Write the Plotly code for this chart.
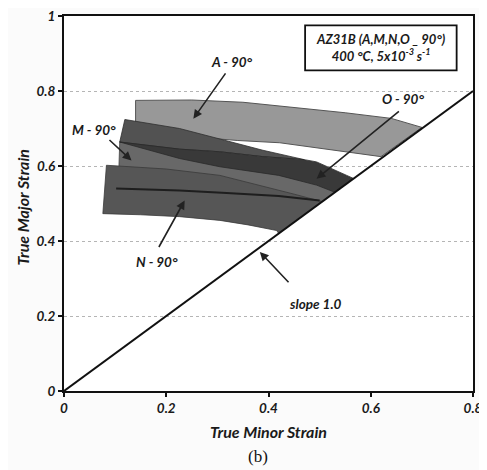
import plotly.graph_objects as go

# ---------------- data ----------------
x_ticks = [0, 0.2, 0.4, 0.6, 0.8]
x_tick_labels = ["0", "0.2", "0.4", "0.6", "0.8"]
y_ticks = [0, 0.2, 0.4, 0.6, 0.8, 1.0]
y_tick_labels = ["0", "0.2", "0.4", "0.6", "0.8", "1"]

# slope 1.0 line
slope_x = [0, 0.8]
slope_y = [0, 0.8]

# A - 90 band (closed outline: top edge left->right, then bottom edge right->left)
band_a_x = [0.14, 0.25, 0.35, 0.45, 0.55, 0.64, 0.70, 0.62, 0.553, 0.50, 0.422, 0.34, 0.14, 0.14]
band_a_y = [0.775, 0.776, 0.770, 0.757, 0.742, 0.727, 0.703, 0.625, 0.637, 0.648, 0.662, 0.668, 0.69, 0.775]

# M - 90 band
band_m_x = [0.109, 0.20, 0.30, 0.42, 0.50, 0.55, 0.505, 0.40, 0.25, 0.107, 0.109]
band_m_y = [0.664, 0.655, 0.630, 0.600, 0.575, 0.550, 0.505, 0.530, 0.560, 0.580, 0.664]

# N - 90 band
band_n_x = [0.083, 0.20, 0.305, 0.38, 0.45, 0.505, 0.42, 0.416, 0.36, 0.305, 0.226, 0.15, 0.076, 0.083]
band_n_y = [0.602, 0.592, 0.575, 0.550, 0.525, 0.505, 0.420, 0.428, 0.443, 0.455, 0.465, 0.470, 0.473, 0.602]
n_line_x = [0.102, 0.226, 0.318, 0.42, 0.50]
n_line_y = [0.540, 0.535, 0.528, 0.520, 0.508]

# O - 90 band: upper (lighter) part and lower (darker) core
band_o_up_x = [0.119, 0.226, 0.305, 0.389, 0.47, 0.389, 0.305, 0.226, 0.109, 0.119]
band_o_up_y = [0.724, 0.700, 0.672, 0.642, 0.617, 0.625, 0.638, 0.645, 0.664, 0.724]
band_o_lo_x = [0.109, 0.226, 0.305, 0.389, 0.47, 0.494, 0.553, 0.566, 0.53, 0.494, 0.42, 0.305, 0.226, 0.109]
band_o_lo_y = [0.664, 0.645, 0.638, 0.625, 0.617, 0.611, 0.575, 0.567, 0.530, 0.549, 0.575, 0.598, 0.620, 0.664]

# ---------------- figure ----------------
fig = go.Figure()

def band(xs, ys, fill, edge="#3a3a3a", w=0.8):
    fig.add_trace(go.Scatter(x=xs, y=ys, mode="lines", fill="toself",
                             fillcolor=fill, line=dict(color=edge, width=w),
                             hoverinfo="skip", showlegend=False))

band(band_a_x, band_a_y, "#989898", "#555555", 1.0)
band(band_m_x, band_m_y, "#686868", "#444444", 0.8)
band(band_n_x, band_n_y, "#565656", "#3a3a3a", 0.8)
band(band_o_up_x, band_o_up_y, "#525252", "#2e2e2e", 0.8)
band(band_o_lo_x, band_o_lo_y, "#393939", "#2a2a2a", 0.8)

fig.add_trace(go.Scatter(x=n_line_x, y=n_line_y, mode="lines",
                         line=dict(color="#1e1e1e", width=2),
                         hoverinfo="skip", showlegend=False))
fig.add_trace(go.Scatter(x=slope_x, y=slope_y, mode="lines",
                         line=dict(color="#111111", width=2),
                         hoverinfo="skip", showlegend=False))

FONT = "Lato, 'Open Sans', sans-serif"
TXT = "#1a1a1a"
lab_font = dict(family=FONT, size=13.5, color=TXT, weight="bold", style="italic")

# labels with arrows
labels = [
    ("A - 90°", 0.328, 0.877, 0.318, 0.851, 0.253, 0.726),
    ("O - 90°", 0.664, 0.780, 0.658, 0.749, 0.494, 0.566),
    ("M - 90°", 0.058, 0.695, 0.086, 0.673, 0.132, 0.615),
    ("N - 90°", 0.181, 0.344, 0.184, 0.380, 0.236, 0.508),
    ("slope 1.0", 0.491, 0.233, 0.442, 0.286, 0.383, 0.371),
]
for txt, tx, ty, ax0, ay0, hx, hy in labels:
    fig.add_annotation(x=tx, y=ty, text=txt, showarrow=False, font=lab_font)
    fig.add_annotation(x=hx, y=hy, ax=ax0, ay=ay0, xref="x", yref="y",
                       axref="x", ayref="y", text="", showarrow=True,
                       arrowhead=2, arrowsize=1.1, arrowwidth=1.6, arrowcolor="#222222")

# legend/info box
fig.add_shape(type="rect", x0=0.4716, x1=0.768, y0=0.855, y1=0.975,
              xref="x", yref="y", line=dict(color="#111111", width=1.8),
              fillcolor="white", layer="above")
fig.add_annotation(x=0.62, y=0.915, xref="x", yref="y", showarrow=False,
                   text="AZ31B (A,M,N,O _ 90°)<br>400 °C, 5x10<sup>-3</sup> s<sup>-1</sup>",
                   font=dict(family=FONT, size=13, color=TXT, weight="bold", style="italic"),
                   align="center")

# axis titles and caption as paper annotations
title_font = dict(family=FONT, size=16, color=TXT, weight="bold", style="italic")
fig.add_annotation(x=0.5, y=-0.108, xref="paper", yref="paper", showarrow=False,
                   text="True Minor Strain", font=title_font, yanchor="middle")
fig.add_annotation(x=-0.102, y=0.49, xref="paper", yref="paper", showarrow=False,
                   text="True Major Strain", font=title_font, textangle=-90,
                   xanchor="center", yanchor="middle")
fig.add_annotation(x=0.475, y=-0.175, xref="paper", yref="paper", showarrow=False,
                   text="(b)", yanchor="middle",
                   font=dict(family="Liberation Serif, serif", size=17, color="#111111"))

axis_common = dict(showline=True, linecolor="#111111", linewidth=2, mirror=True,
                   ticks="outside", ticklen=4, tickwidth=1.5, tickcolor="#111111",
                   zeroline=False, automargin=False, ticklabeloverflow="allow",
                   tickfont=dict(family=FONT, size=13.5, color=TXT, weight="bold", style="italic"))

fig.update_xaxes(range=[0, 0.8], tickvals=x_ticks, ticktext=x_tick_labels, showgrid=False,
                 **axis_common)
fig.update_yaxes(range=[0, 1.0], tickvals=y_ticks, ticktext=y_tick_labels,
                 showgrid=True, gridcolor="#b5b5b5", griddash="dot", gridwidth=1,
                 **axis_common)

# page body has an 8px default margin, so the figure is sized/offset to compensate
fig.update_layout(width=479, height=462,
                  margin=dict(l=56, r=14, t=8, b=79),
                  paper_bgcolor="#fbfbfb", plot_bgcolor="#ffffff",
                  showlegend=False)

fig.write_html("out.html")
